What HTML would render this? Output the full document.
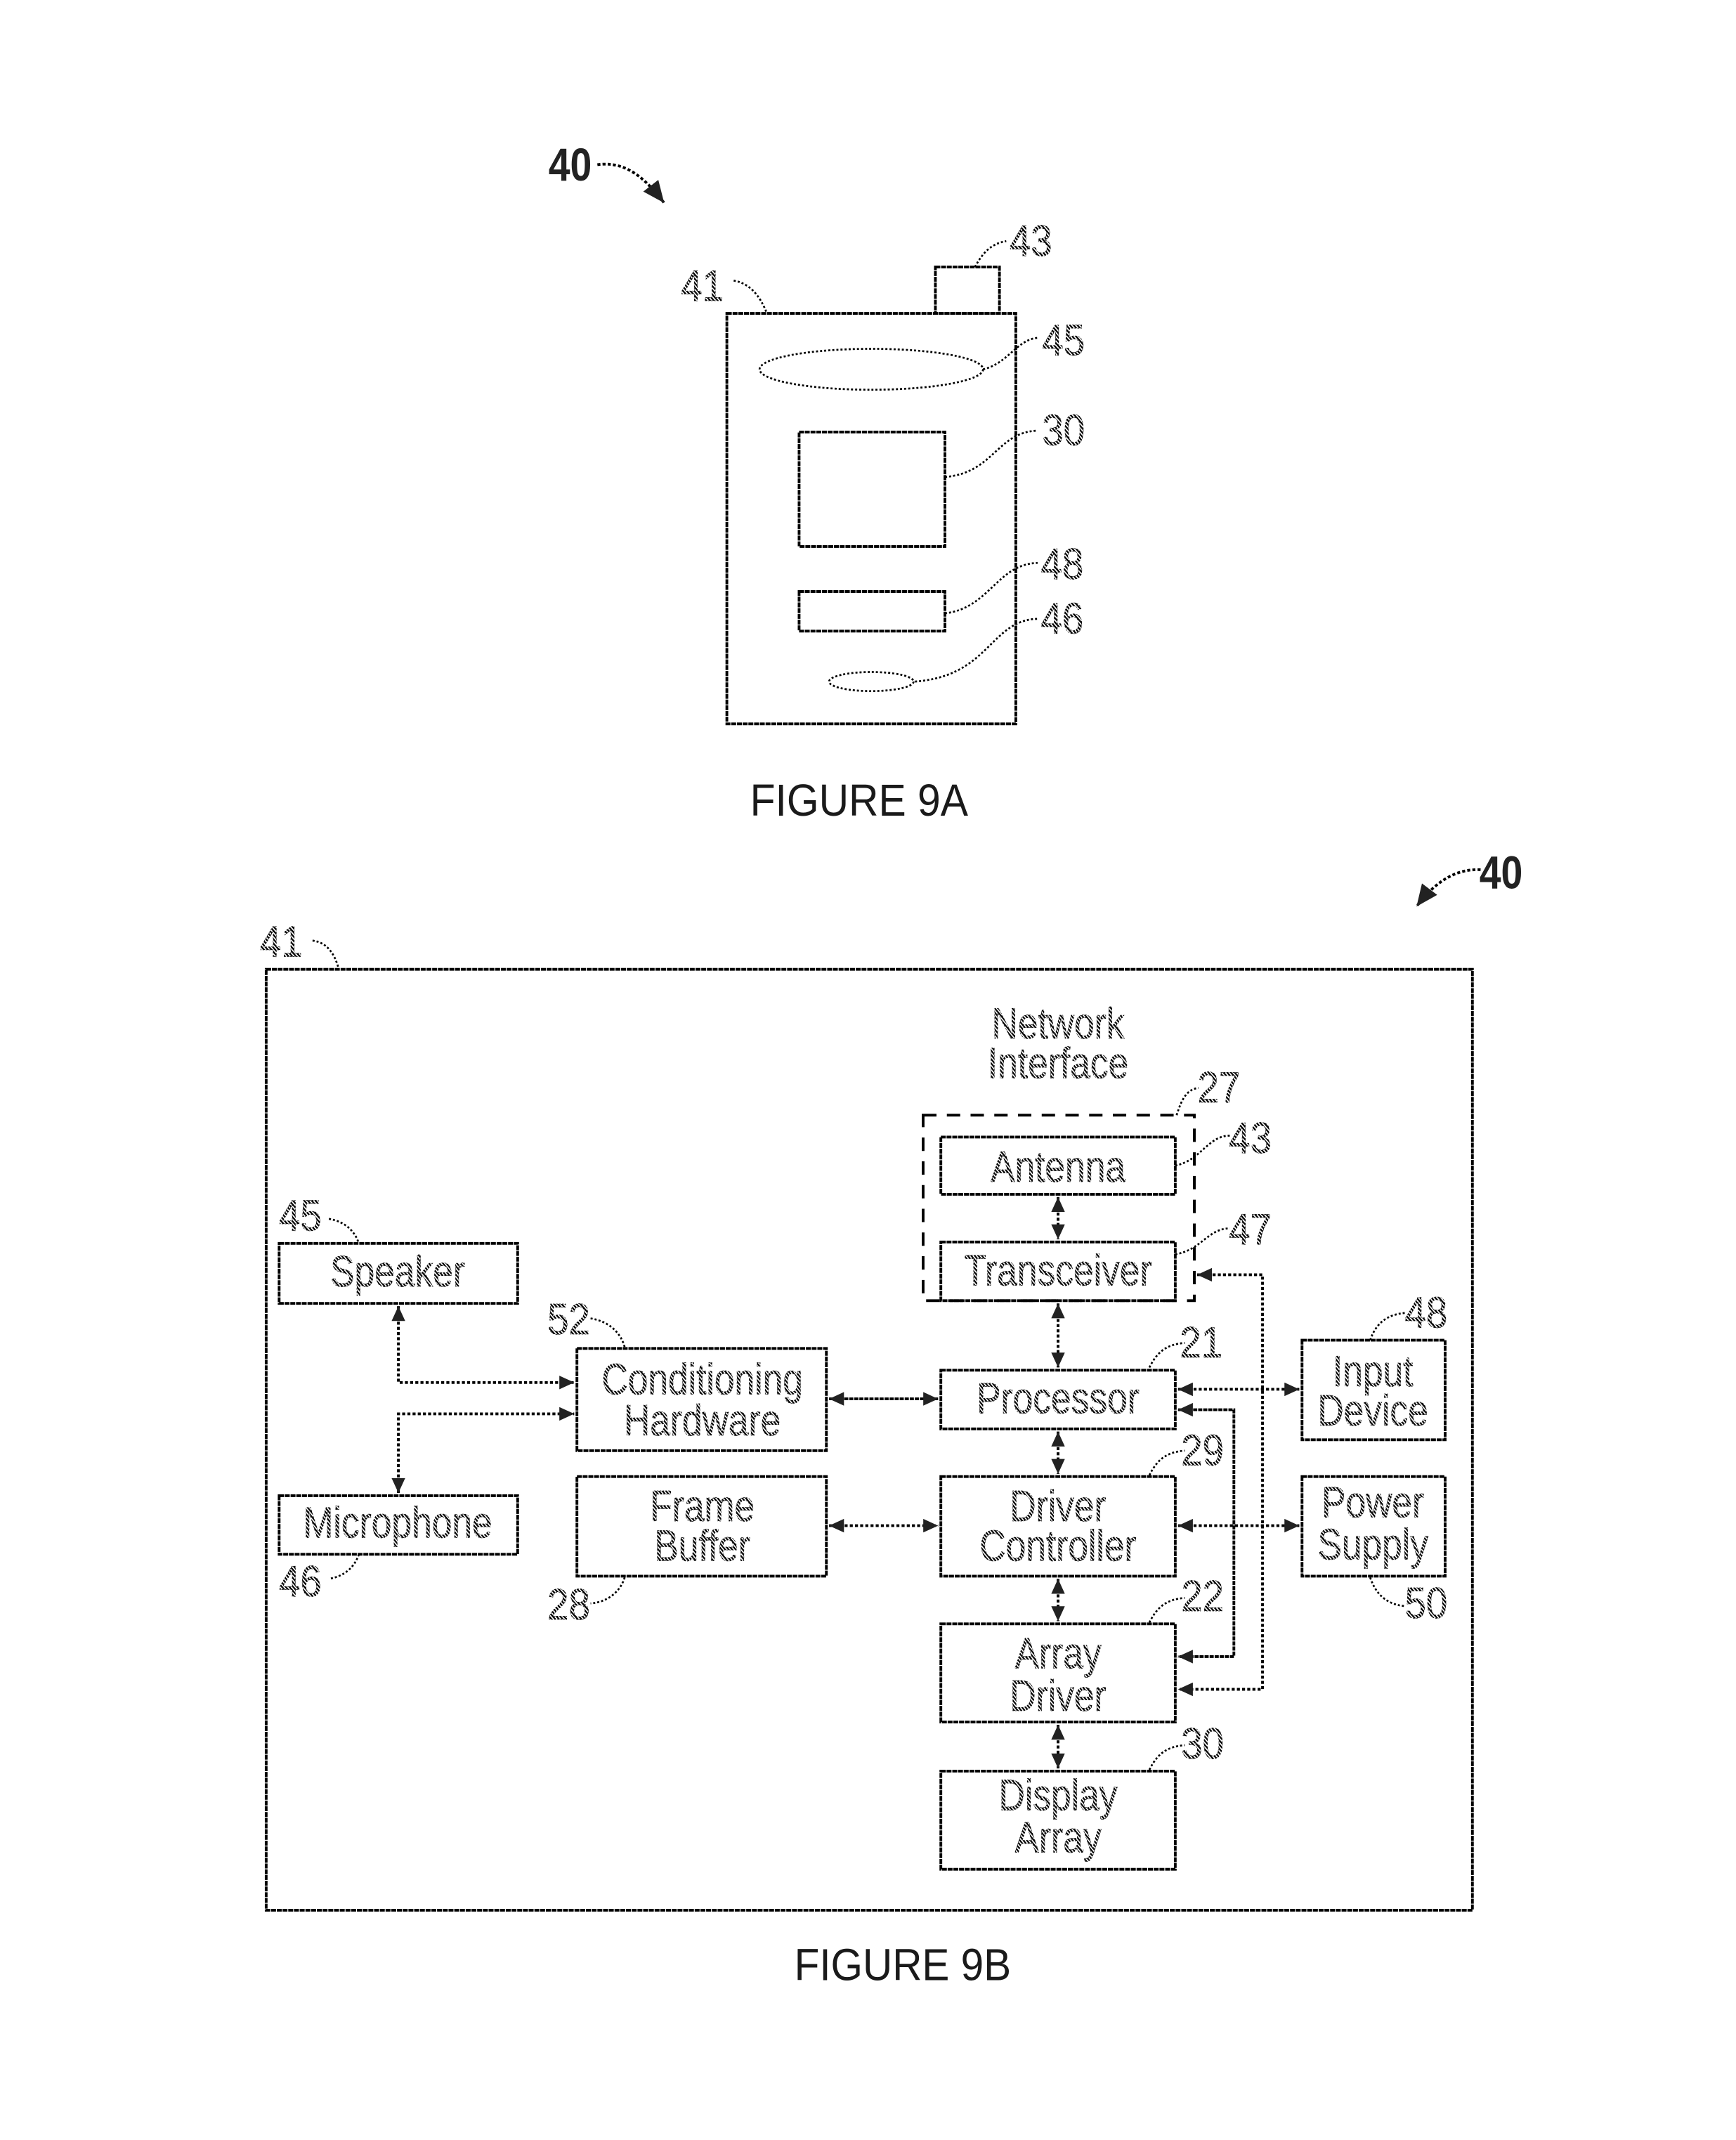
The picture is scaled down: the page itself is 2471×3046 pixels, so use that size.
<!DOCTYPE html>
<html><head><meta charset="utf-8"><style>
html,body{margin:0;padding:0;background:#fff}
svg{display:block}
text{font-family:"Liberation Sans",sans-serif;text-anchor:middle;dominant-baseline:central;transform-box:fill-box;transform-origin:center}
.t{font-size:32px;fill:url(#hatch);stroke:#000;stroke-width:.35;stroke-dasharray:1.5 1;transform:scaleX(.83)}
.n{font-size:32px;fill:url(#hatch);stroke:#000;stroke-width:.35;stroke-dasharray:1.5 1;transform:scaleX(.88)}
.b{font-size:34px;font-weight:bold;fill:#222;transform:scaleX(.84)}
.c{font-size:33px;fill:#1a1a1a}
.r{fill:none;stroke:#000;stroke-width:2;stroke-dasharray:3.6 .6}
.l{fill:none;stroke:#000;stroke-width:1.4;stroke-dasharray:1.5 1.5}
.a{fill:none;stroke:#000;stroke-width:2;stroke-dasharray:2.2 1.6}
.s{fill:none;stroke:#000;stroke-width:2;stroke-dasharray:3 .7}
</style></head><body>
<svg xmlns="http://www.w3.org/2000/svg" width="2471" height="3046" viewBox="-1.3 -0.8 1273.7 1569.3" preserveAspectRatio="none">
<defs>
<pattern id="hatch" width="2.2" height="2.2" patternUnits="userSpaceOnUse" patternTransform="rotate(45)"><rect width="2.2" height="1.25" fill="#000"/></pattern>
<marker id="h" viewBox="0 0 12 11" refX="12" refY="5.5" markerWidth="12" markerHeight="10" markerUnits="userSpaceOnUse" orient="auto-start-reverse"><path d="M0 0L12 5.5L0 11Z" fill="#222"/></marker>
<marker id="hb" viewBox="0 0 16 14" refX="16" refY="7" markerWidth="16" markerHeight="14" markerUnits="userSpaceOnUse" orient="auto"><path d="M0 0L16 7L0 14Z" fill="#222"/></marker>
</defs>

<!-- Figure 9A -->
<text class="b" x="417" y="120">40</text>
<path class="a" d="M437 120C458 117 472 130 486 148" marker-end="url(#hb)"/>
<rect class="r" x="685" y="195" width="47" height="34"/>
<rect class="r" x="532" y="229" width="212" height="301"/>
<ellipse class="l" cx="638" cy="270" rx="82" ry="15"/>
<rect class="r" x="585" y="316" width="107" height="84"/>
<rect class="r" x="585" y="433" width="107" height="29"/>
<ellipse class="l" cx="638" cy="499" rx="31" ry="7"/>
<text class="n" x="755" y="176">43</text>
<text class="n" x="514" y="209">41</text>
<text class="n" x="779" y="249">45</text>
<text class="n" x="779" y="315">30</text>
<text class="n" x="778" y="413">48</text>
<text class="n" x="778" y="453">46</text>
<path class="l" d="M714 195C720 184 726 178 737 176"/>
<path class="l" d="M537 205C549 207 556 216 561 228"/>
<path class="l" d="M720 270C738 266 745 248 760 247"/>
<path class="l" d="M692 349C728 346 730 316 760 315"/>
<path class="l" d="M692 449C725 445 730 413 760 412"/>
<path class="l" d="M670 499C725 495 725 454 760 453"/>
<text class="c" x="629" y="586" textLength="160" lengthAdjust="spacingAndGlyphs">FIGURE 9A</text>

<!-- Figure 9B -->
<text class="b" x="1100" y="639">40</text>
<path class="a" d="M1085 637C1065 636 1050 648 1038 664" marker-end="url(#hb)"/>
<rect class="r" x="194" y="710" width="885" height="690"/>
<text class="n" x="205" y="690">41</text>
<path class="l" d="M228 689C238 690 244 698 247 709"/>

<text class="t" x="775" y="750">Network</text>
<text class="t" x="775" y="779">Interface</text>
<rect x="676" y="817" width="199" height="136" fill="none" stroke="#000" stroke-width="2" stroke-dasharray="9.8 7.6"/>
<text class="n" x="893" y="797">27</text>
<path class="l" d="M862 817C866 804 870 798 878 797"/>

<rect class="r" x="689" y="833" width="172" height="42"/><text class="t" x="775" y="855">Antenna</text>
<rect class="r" x="689" y="910" width="172" height="43"/><text class="t" x="775" y="931">Transceiver</text>
<rect class="r" x="689" y="1004" width="172" height="43"/><text class="t" x="775" y="1025">Processor</text>
<rect class="r" x="689" y="1082" width="172" height="73"/><text class="t" x="775" y="1104">Driver</text><text class="t" x="775" y="1133">Controller</text>
<rect class="r" x="689" y="1190" width="172" height="72"/><text class="t" x="775" y="1212">Array</text><text class="t" x="775" y="1243">Driver</text>
<rect class="r" x="689" y="1298" width="172" height="72"/><text class="t" x="775" y="1316">Display</text><text class="t" x="775" y="1347">Array</text>
<rect class="r" x="203.5" y="911" width="175" height="44"/><text class="t" x="290.5" y="932">Speaker</text>
<rect class="r" x="203.5" y="1096" width="175" height="43"/><text class="t" x="290.5" y="1116">Microphone</text>
<rect class="r" x="422" y="988" width="183" height="75"/><text class="t" x="514" y="1011">Conditioning</text><text class="t" x="514" y="1041">Hardware</text>
<rect class="r" x="422" y="1082" width="183" height="73"/><text class="t" x="514" y="1104">Frame</text><text class="t" x="514" y="1133">Buffer</text>
<rect class="r" x="954" y="982" width="105" height="73"/><text class="t" x="1006" y="1005">Input</text><text class="t" x="1006" y="1034">Device</text>
<rect class="r" x="954" y="1082" width="105" height="73"/><text class="t" x="1006" y="1101">Power</text><text class="t" x="1006" y="1132">Supply</text>

<text class="n" x="916" y="834">43</text><path class="l" d="M861 854C880 850 885 832 901 832"/>
<text class="n" x="916" y="901">47</text><path class="l" d="M861 919C880 916 885 900 901 900"/>
<text class="n" x="880" y="984">21</text><path class="l" d="M842 1002C848 990 855 985 868 984"/>
<text class="n" x="881" y="1063">29</text><path class="l" d="M842 1081C848 1069 855 1064 868 1063"/>
<text class="n" x="881" y="1170">22</text><path class="l" d="M842 1189C848 1177 855 1172 868 1171"/>
<text class="n" x="881" y="1278">30</text><path class="l" d="M842 1297C848 1285 855 1280 868 1279"/>
<text class="n" x="1045" y="962">48</text><path class="l" d="M1004 982C1008 970 1016 963 1030 962"/>
<text class="n" x="1045" y="1175">50</text><path class="l" d="M1004 1156C1008 1168 1016 1176 1030 1177"/>
<text class="n" x="219" y="891">45</text><path class="l" d="M240 893C252 895 259 902 262 911"/>
<text class="n" x="416" y="967">52</text><path class="l" d="M432 966C445 968 454 976 457 987"/>
<text class="n" x="219" y="1159">46</text><path class="l" d="M262 1139C259 1148 252 1155 240 1157"/>
<text class="n" x="416" y="1176">28</text><path class="l" d="M457 1156C454 1166 445 1174 432 1175"/>

<path class="a" d="M775 877V908" marker-start="url(#h)" marker-end="url(#h)"/>
<path class="a" d="M775 955V1002" marker-start="url(#h)" marker-end="url(#h)"/>
<path class="a" d="M775 1049V1080" marker-start="url(#h)" marker-end="url(#h)"/>
<path class="a" d="M775 1157V1188" marker-start="url(#h)" marker-end="url(#h)"/>
<path class="a" d="M775 1264V1296" marker-start="url(#h)" marker-end="url(#h)"/>
<path class="s" d="M607 1025H687" marker-start="url(#h)" marker-end="url(#h)"/>
<path class="a" d="M607 1118H687" marker-start="url(#h)" marker-end="url(#h)"/>
<path class="a" d="M291 957V1013H420" marker-start="url(#h)" marker-end="url(#h)"/>
<path class="a" d="M291 1094V1036H420" marker-start="url(#h)" marker-end="url(#h)"/>
<path class="a" d="M863 1018H952" marker-start="url(#h)" marker-end="url(#h)"/>
<path class="a" d="M863 1118H952" marker-start="url(#h)" marker-end="url(#h)"/>
<path class="s" d="M863 1033H904V1214H863" marker-start="url(#h)" marker-end="url(#h)"/>
<path class="a" d="M877 934H925V1238H863" marker-start="url(#h)" marker-end="url(#h)"/>
<text class="c" x="661" y="1440" textLength="159" lengthAdjust="spacingAndGlyphs">FIGURE 9B</text>
</svg>
</body></html>
